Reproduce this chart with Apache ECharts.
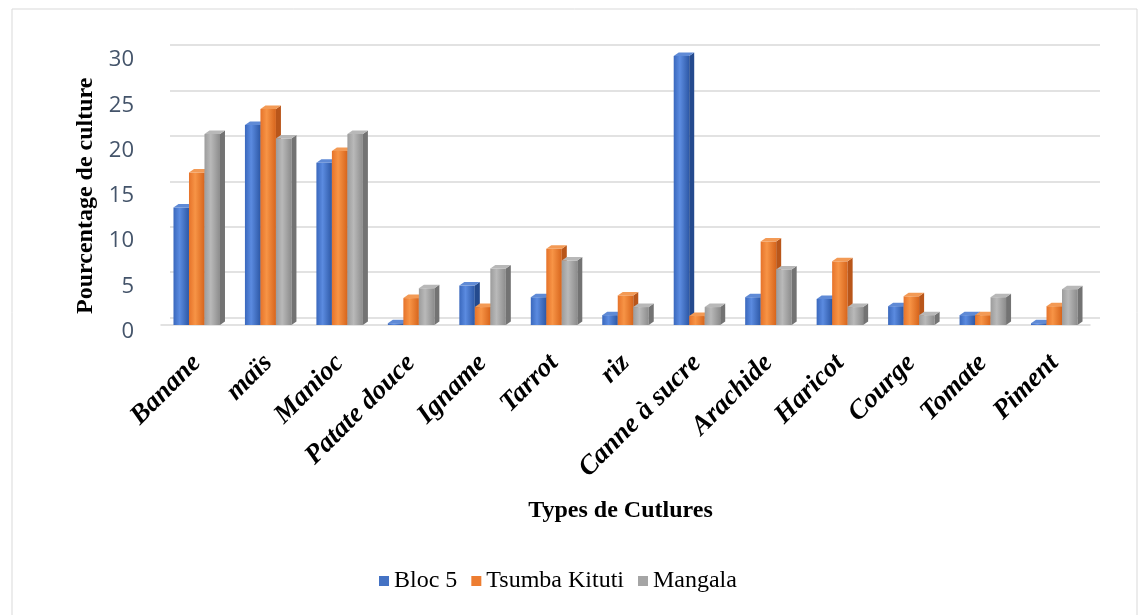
<!DOCTYPE html>
<html>
<head>
<meta charset="utf-8">
<script src="https://cdn.jsdelivr.net/npm/echarts@6/dist/echarts.min.js"></script>
<style>
  html, body { margin: 0; padding: 0; background: #ffffff; }
  #chart { width: 1147px; height: 615px; }
</style>
</head>
<body>
<div id="chart"></div>
<script>
// Crop categories and the share (%) of each crop per site
const categories = ['Banane', 'maïs', 'Manioc', 'Patate douce', 'Igname', 'Tarrot', 'riz',
  'Canne à sucre', 'Arachide', 'Haricot', 'Courge', 'Tomate', 'Piment'];
const seriesNames = ['Bloc 5', 'Tsumba Kituti', 'Mangala'];
const bloc5 =        [13.1, 22.3, 18.1, 0.2, 4.4, 3.1, 1.1, 30.0, 3.1, 2.9, 2.1, 1.1, 0.2];
const tsumbaKituti = [17.0, 24.1, 19.4, 3.0, 2.0, 8.5, 3.3, 1.0, 9.3, 7.1, 3.2, 1.1, 2.1];
const mangala =      [21.3, 20.8, 21.3, 4.1, 6.3, 7.2, 2.0, 2.0, 6.2, 2.0, 1.1, 3.1, 4.0];
const yTicks = [0, 5, 10, 15, 20, 25, 30];

const chart = echarts.init(document.getElementById('chart'));

const BAR_W = 15.5;   // width of one column's front face
const DEPTH_X = 5;    // oblique depth of the column boxes
const DEPTH_Y = 3.5;

// Shading for each series: front gradient stops, side and top faces
const palettes = [
  { base: '#4472C4', front: ['#3A68BD', '#5B8BE0', '#2D58A6'], side: '#244A8E', top: '#5F8AD6' },
  { base: '#ED7D31', front: ['#E6732A', '#F79446', '#D7651C'], side: '#B9561A', top: '#F39A55' },
  { base: '#A5A5A5', front: ['#9C9C9C', '#B9B9B9', '#8C8C8C'], side: '#737373', top: '#B8B8B8' }
];

function boxRenderer(sIdx) {
  const pal = palettes[sIdx];
  return function (params, api) {
    const idx = api.value(0);
    const v = api.value(1);
    const top = api.coord([idx, v]);
    const base = api.coord([idx, 0]);
    const x0 = base[0] + (sIdx - 1.5) * BAR_W;
    const x1 = x0 + BAR_W;
    const yT = top[1];
    const yB = base[1];
    return {
      type: 'group',
      children: [
        {
          type: 'rect',
          shape: { x: x0, y: yT, width: BAR_W, height: Math.max(yB - yT, 0.5) },
          style: {
            fill: new echarts.graphic.LinearGradient(0, 0, 1, 0, [
              { offset: 0, color: pal.front[0] },
              { offset: 0.4, color: pal.front[1] },
              { offset: 1, color: pal.front[2] }
            ])
          }
        },
        {
          type: 'polygon',
          shape: { points: [[x1, yB], [x1 + DEPTH_X, yB - DEPTH_Y], [x1 + DEPTH_X, yT - DEPTH_Y], [x1, yT]] },
          style: { fill: pal.side }
        },
        {
          type: 'polygon',
          shape: { points: [[x0, yT], [x1, yT], [x1 + DEPTH_X, yT - DEPTH_Y], [x0 + DEPTH_X, yT - DEPTH_Y]] },
          style: { fill: pal.top }
        }
      ]
    };
  };
}

const seriesValues = [bloc5, tsumbaKituti, mangala];

const option = {
  backgroundColor: '#ffffff',
  animation: false,
  graphic: [
    {
      type: 'rect',
      shape: { x: 12, y: 9, width: 1125, height: 620 },
      style: { fill: 'none', stroke: '#D9D9D9', lineWidth: 1 },
      silent: true
    }
  ],
  legend: {
    data: seriesNames,
    bottom: 17,
    left: 374,
    icon: 'rect',
    itemWidth: 10,
    itemHeight: 10,
    itemGap: 14,
    textStyle: { fontFamily: 'Liberation Serif', fontSize: 24, color: '#000000' }
  },
  grid: [
    // front plane: scales for the columns
    { left: 161, right: 57, top: 56, bottom: 290 },
    // back wall: horizontal gridlines
    { left: 170, right: 47, top: 45, bottom: 297.5 },
    // value labels along the left edge of the floor
    { left: 161, right: 57, top: 60, bottom: 283.5 }
  ],
  xAxis: [
    {
      type: 'category',
      gridIndex: 0,
      data: categories,
      axisLine: { show: true, lineStyle: { color: '#D9D9D9', width: 1.5 } },
      axisTick: { show: false },
      axisLabel: {
        interval: 0,
        rotate: 45,
        margin: 34,
        fontFamily: 'Liberation Serif',
        fontWeight: 'bold',
        fontStyle: 'italic',
        fontSize: 27,
        color: '#000000'
      },
      name: 'Types de Cutlures',
      nameLocation: 'middle',
      nameGap: 174,
      nameTextStyle: {
        fontFamily: 'Liberation Serif', fontWeight: 'bold', fontSize: 24, color: '#000000',
        padding: [0, 10, 0, 0]
      }
    },
    { type: 'category', gridIndex: 1, data: categories, show: false },
    { type: 'category', gridIndex: 2, data: categories, show: false }
  ],
  yAxis: [
    {
      type: 'value',
      gridIndex: 0,
      min: 0,
      max: 30,
      interval: 5,
      show: false
    },
    {
      type: 'value',
      gridIndex: 1,
      min: 0,
      max: 30,
      interval: 5,
      axisLine: { show: false },
      axisTick: { show: false },
      axisLabel: { show: false },
      splitLine: { show: true, lineStyle: { color: '#D9D9D9', width: 1.5 } }
    },
    {
      type: 'value',
      gridIndex: 2,
      min: 0,
      max: 30,
      interval: 5,
      splitLine: { show: false },
      axisLine: { show: false },
      axisTick: { show: false },
      axisLabel: {
        margin: 27,
        fontFamily: 'Open Sans',
        fontSize: 22,
        color: '#44546A',
        customValues: yTicks
      },
      name: 'Pourcentage de culture',
      nameLocation: 'middle',
      nameGap: 59,
      nameTextStyle: { fontFamily: 'Liberation Serif', fontWeight: 'bold', fontSize: 24, color: '#000000' }
    }
  ],
  series: seriesNames.map(function (name, s) {
    return {
      name: name,
      type: 'custom',
      xAxisIndex: 0,
      yAxisIndex: 0,
      itemStyle: { color: palettes[s].base },
      renderItem: boxRenderer(s),
      encode: { x: 0, y: 1 },
      data: seriesValues[s].map(function (v, i) { return [i, v]; })
    };
  })
};

chart.setOption(option);
</script>
</body>
</html>
